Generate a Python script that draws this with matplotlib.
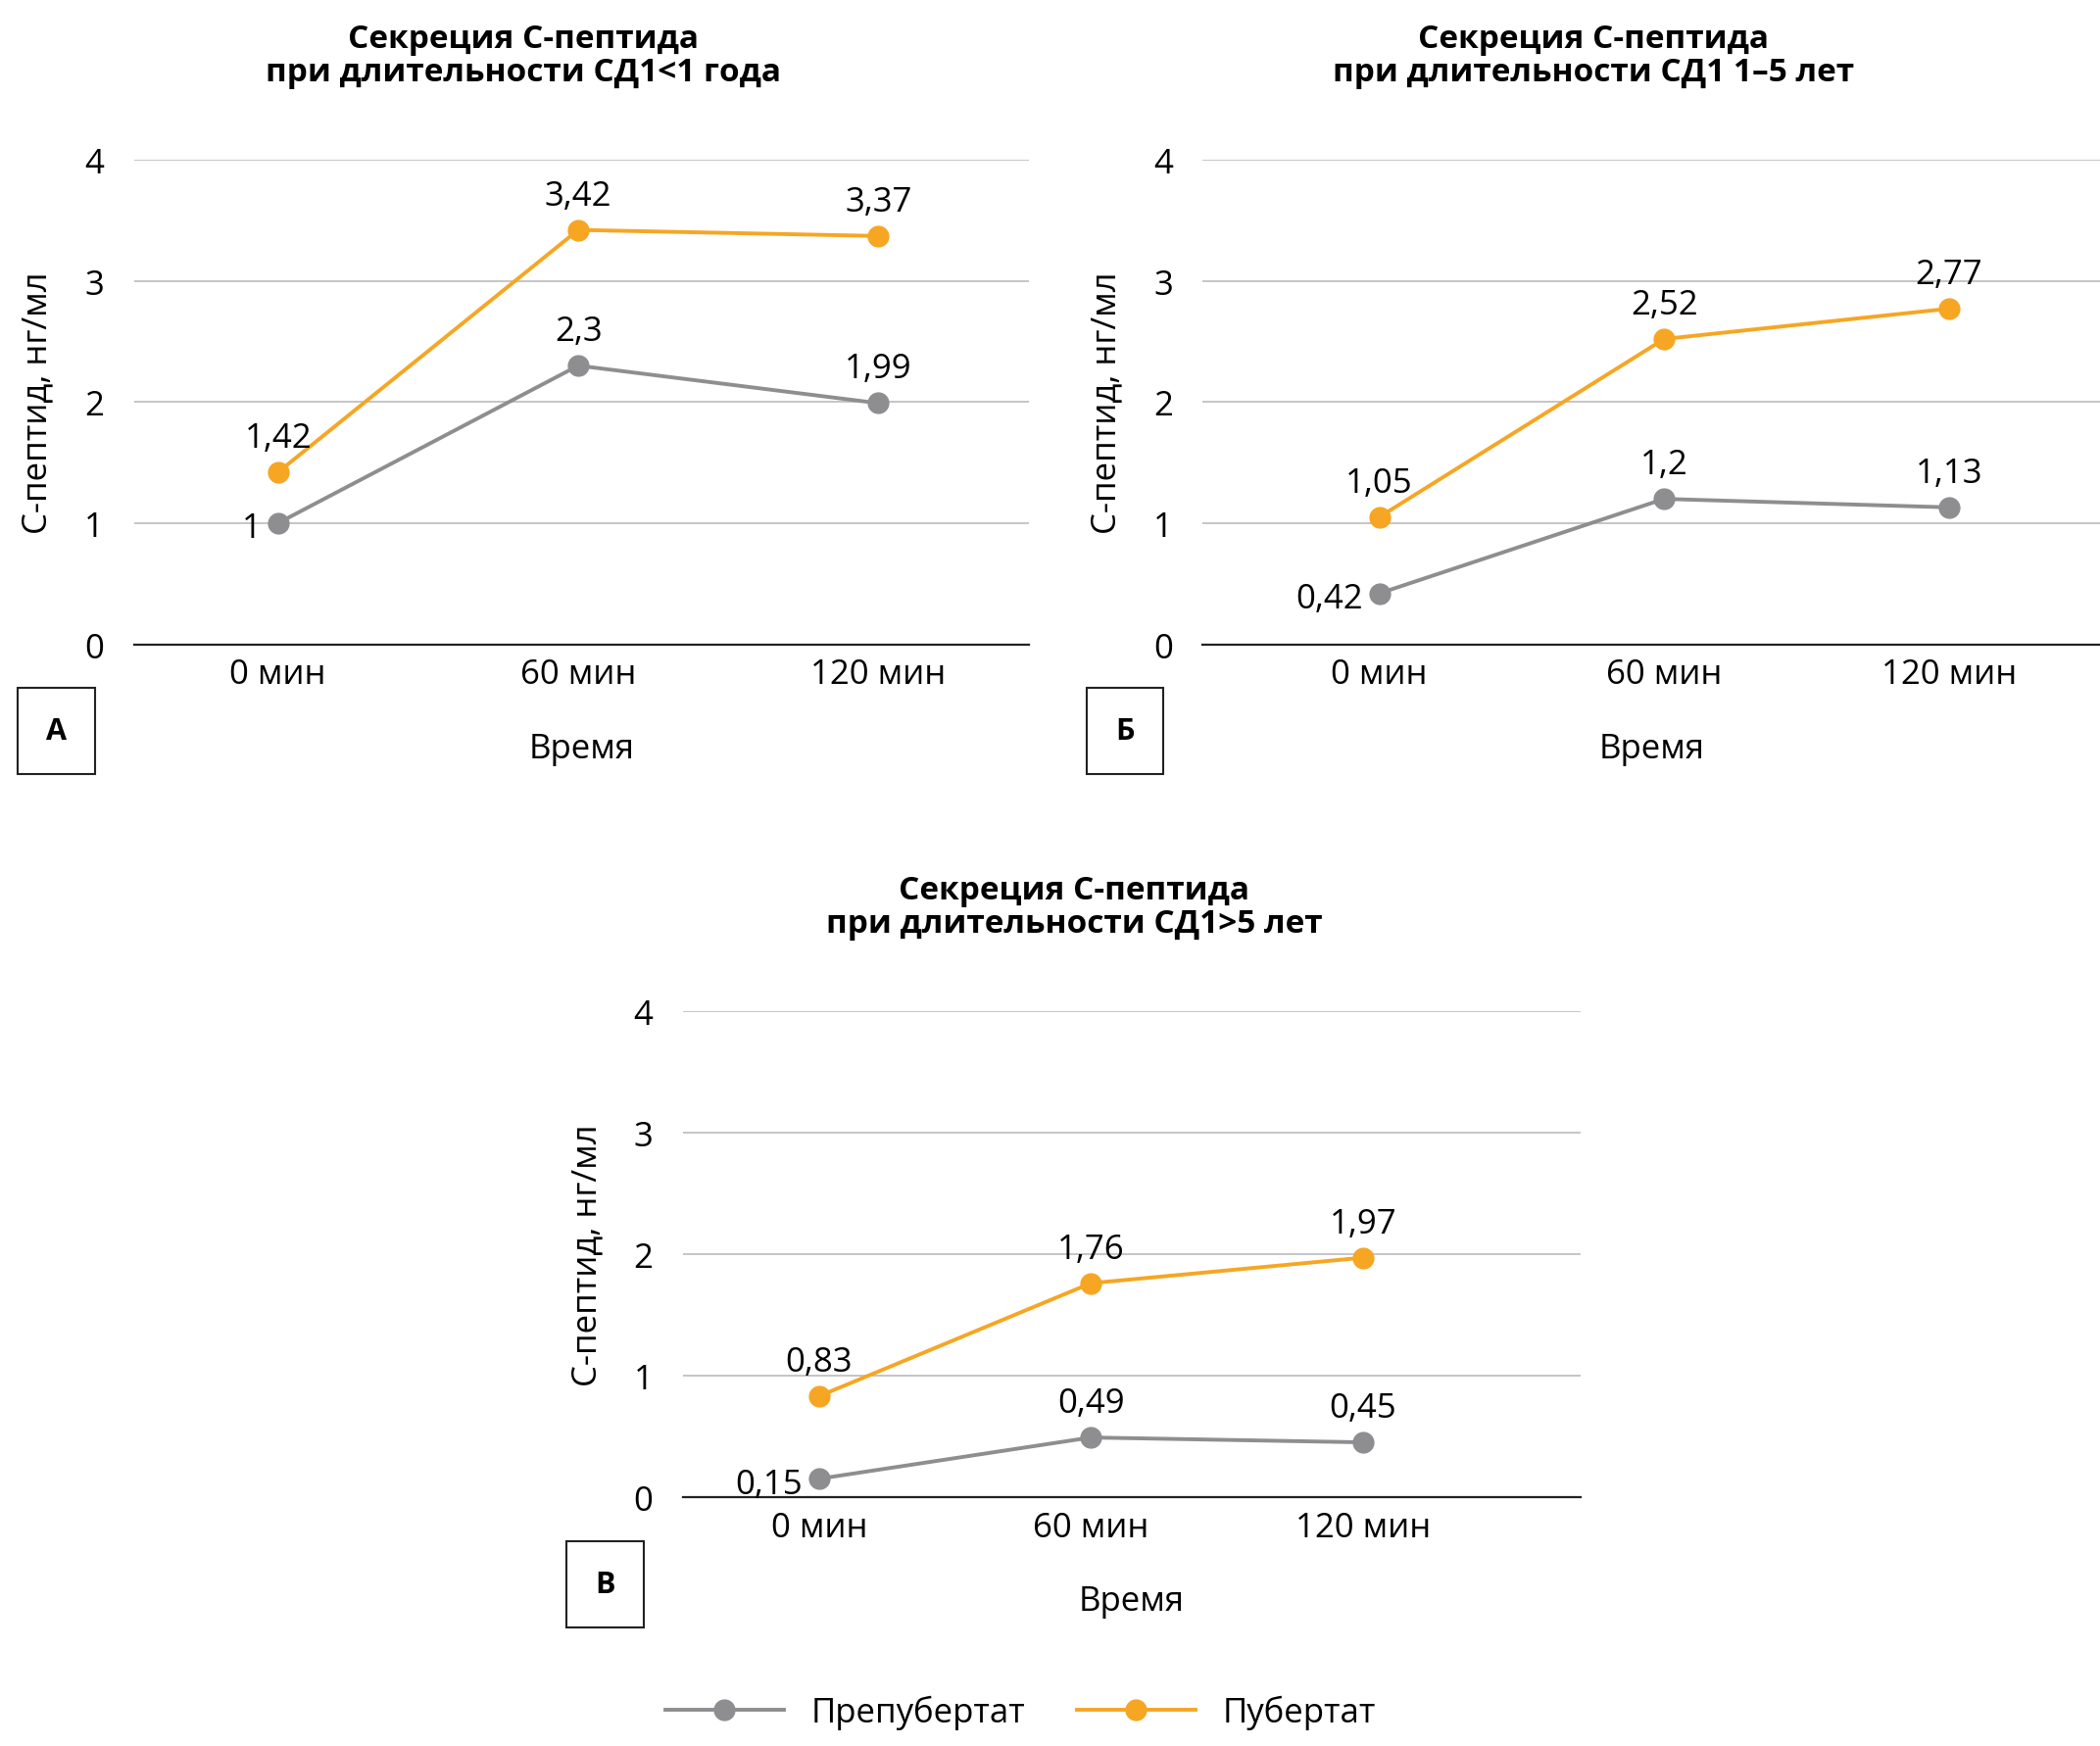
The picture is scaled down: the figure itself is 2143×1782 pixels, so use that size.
import matplotlib
matplotlib.use("Agg")
import matplotlib.pyplot as plt
from matplotlib.lines import Line2D

plt.rcParams['font.family'] = ['Open Sans', 'DejaVu Sans']

categories = ['0 мин', '60 мин', '120 мин']
titles = ['Секреция С-пептида\nпри длительности СД1<1 года',
          'Секреция С-пептида\nпри длительности СД1 1–5 лет',
          'Секреция С-пептида\nпри длительности СД1>5 лет']
letters = ['А', 'Б', 'В']
prepubertal = [[1.0, 2.3, 1.99], [0.42, 1.2, 1.13], [0.15, 0.49, 0.45]]
pubertal = [[1.42, 3.42, 3.37], [1.05, 2.52, 2.77], [0.83, 1.76, 1.97]]

GREY = '#8e8e91'
ORANGE = '#f6a623'
W, H = 1568, 1305
FS = 25

fig = plt.figure(figsize=(21.43, 17.83), dpi=100)

# panel positions in reference pixel space: (left, right, y0, y4), xlim
boxes = [(100, 768, 482, 120), (898, 1568, 482, 120), (510, 1180, 1119, 756)]
xlims = [(-0.48, 2.5), (-0.62, 2.53), (-0.5, 2.8)]

def fmt(v):
    return f'{v:g}'.replace('.', ',')

for i, (l, r, y0, y4) in enumerate(boxes):
    ax = fig.add_axes([l / W, 1 - y0 / H, (r - l) / W, (y0 - y4) / H])
    x = range(3)
    ax.plot(x, prepubertal[i], color=GREY, lw=2.8, marker='o', ms=15, zorder=3)
    ax.plot(x, pubertal[i], color=ORANGE, lw=2.8, marker='o', ms=15, zorder=3)
    for j in x:
        v = prepubertal[i][j]
        if j == 0:
            ax.annotate(fmt(v), (j, v), xytext=(-12, -4), textcoords='offset points',
                        ha='right', va='center', fontsize=FS)
        else:
            ax.annotate(fmt(v), (j, v), xytext=(0, 13), textcoords='offset points',
                        ha='center', va='bottom', fontsize=FS)
        v = pubertal[i][j]
        ax.annotate(fmt(v), (j, v), xytext=(0, 13), textcoords='offset points',
                    ha='center', va='bottom', fontsize=FS)
    ax.set_xlim(*xlims[i])
    ax.set_ylim(0, 4)
    ax.set_yticks([0, 1, 2, 3, 4])
    ax.set_xticks(list(x))
    ax.set_xticklabels(categories)
    ax.tick_params(axis='both', length=0, labelsize=FS, pad=10)
    ax.tick_params(axis='y', pad=22)
    ax.grid(axis='y', color='#c0c0c0', lw=1.3)
    ax.set_axisbelow(True)
    for s in ['top', 'right', 'left']:
        ax.spines[s].set_visible(False)
    ax.spines['bottom'].set_color('#222222')
    ax.spines['bottom'].set_linewidth(1.6)
    ax.set_xlabel('Время', fontsize=FS, labelpad=30)
    ax.set_ylabel('С-пептид, нг/мл', fontsize=FS, labelpad=22)
    cx = (l + r) / 2 - 43
    fig.text(cx / W, 1 - (y4 - 78) / H, titles[i], ha='center', va='center',
             fontsize=24, fontweight='bold', linespacing=1.05)
    fig.text((l - 58) / W, 1 - (y0 + 65) / H, letters[i], ha='center', va='center',
             fontsize=22, fontweight='bold',
             bbox=dict(boxstyle='square,pad=0.95', fc='white', ec='#222222', lw=1.5))

handles = [Line2D([], [], color=GREY, lw=2.8, marker='o', ms=15),
           Line2D([], [], color=ORANGE, lw=2.8, marker='o', ms=15)]
fig.legend(handles, ['Препубертат', 'Пубертат'], loc='center',
           bbox_to_anchor=(762 / W, 1 - 1280 / H), ncol=2, frameon=False,
           fontsize=FS, handlelength=3.5, columnspacing=1.5)

fig.savefig('out.png', dpi=100)
